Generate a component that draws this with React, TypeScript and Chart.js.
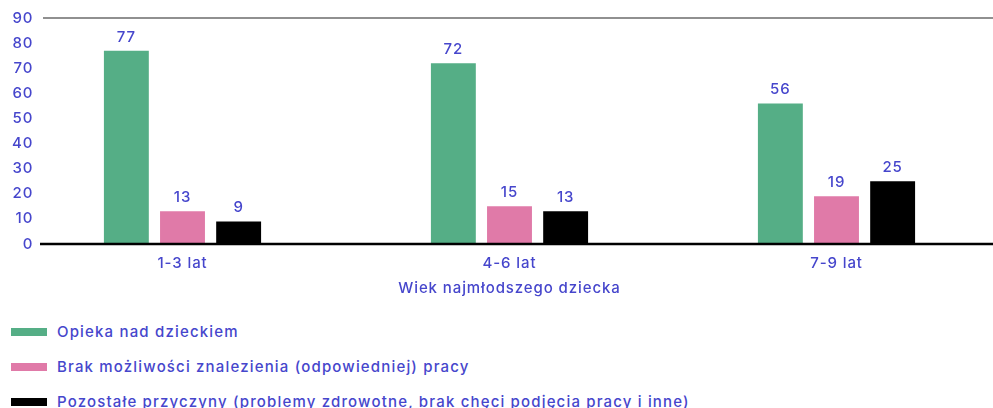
import React, { useEffect, useRef } from "react";
import { Chart, registerables } from "chart.js";

Chart.register(...registerables);

const categories = ["1-3 lat", "4-6 lat", "7-9 lat"];
const seriesNames = [
  "Opieka nad dzieckiem",
  "Brak możliwości znalezienia (odpowiedniej) pracy",
  "Pozostałe przyczyny (problemy zdrowotne, brak chęci podjęcia pracy i inne)",
];
const opiekaValues = [77, 72, 56];
const brakPracyValues = [13, 15, 19];
const pozostaleValues = [9, 13, 25];
const yTickValues = [0, 10, 20, 30, 40, 50, 60, 70, 80, 90];
const xAxisTitle = "Wiek najmłodszego dziecka";

const seriesColors = ["#55ae86", "#e07aa8", "#000000"];
const TEXT_COLOR = "#4646cc";
const FONT_FAMILY = "Inter, 'Open Sans', sans-serif";
const FONT_WEIGHT = 500;
const LETTER_SPACING = "0.9px";
const LEGEND_LETTER_SPACING = "1.17px";

const letterSpacingPlugin = {
  id: "letterSpacing",
  beforeLayout(chart: any) {
    chart.ctx.letterSpacing = LETTER_SPACING;
  },
  beforeDraw(chart: any) {
    chart.ctx.letterSpacing = LETTER_SPACING;
  },
};

const valueLabelPlugin = {
  id: "valueLabels",
  afterDatasetsDraw(chart: any) {
    const ctx = chart.ctx;
    ctx.save();
    ctx.fillStyle = TEXT_COLOR;
    ctx.font = `${FONT_WEIGHT} 15px ${FONT_FAMILY}`;
    ctx.textAlign = "center";
    ctx.textBaseline = "bottom";
    chart.data.datasets.forEach((ds: any, i: number) => {
      const meta = chart.getDatasetMeta(i);
      meta.data.forEach((bar: any, j: number) => {
        ctx.fillText(String(ds.data[j]), bar.x, bar.y - 6);
      });
    });
    ctx.restore();
  },
};

const axisLinesPlugin = {
  id: "axisLines",
  afterDatasetsDraw(chart: any) {
    const ctx = chart.ctx;
    const y = chart.scales.y;
    const left = chart.chartArea.left;
    const right = chart.width;
    ctx.save();
    const yTop = y.getPixelForValue(yTickValues[yTickValues.length - 1]);
    ctx.strokeStyle = "#6b6b6b";
    ctx.lineWidth = 1.5;
    ctx.beginPath();
    ctx.moveTo(left + 24, yTop);
    ctx.lineTo(right, yTop);
    ctx.stroke();
    const y0 = y.getPixelForValue(yTickValues[0]);
    ctx.strokeStyle = "#000000";
    ctx.lineWidth = 2.5;
    ctx.beginPath();
    ctx.moveTo(left + 21, y0);
    ctx.lineTo(right, y0);
    ctx.stroke();
    ctx.restore();
  },
};

export default function App() {
  const canvasRef = useRef<HTMLCanvasElement | null>(null);

  useEffect(() => {
    if (!canvasRef.current) return;
    const seriesValues = [opiekaValues, brakPracyValues, pozostaleValues];
    const font = { family: FONT_FAMILY, size: 15, weight: FONT_WEIGHT as any };
    const chart = new Chart(canvasRef.current, {
      type: "bar",
      data: {
        labels: categories,
        datasets: seriesValues.map((vals, i) => ({
          label: seriesNames[i],
          data: vals,
          backgroundColor: seriesColors[i],
          borderWidth: 0,
          categoryPercentage: 0.515,
          barPercentage: 0.8,
        })),
      },
      options: {
        responsive: true,
        maintainAspectRatio: false,
        animation: false,
        layout: { padding: { left: 19, right: 10, top: 18, bottom: 0 } },
        plugins: {
          legend: { display: false },
          tooltip: { enabled: false },
        },
        scales: {
          x: {
            grid: { display: false, drawTicks: false },
            border: { display: false },
            ticks: {
              color: TEXT_COLOR,
              font,
              padding: 10.5,
            },
            title: {
              display: true,
              text: xAxisTitle,
              color: TEXT_COLOR,
              font,
              padding: { top: -4, bottom: 0 },
            },
          },
          y: {
            min: 0,
            max: 90,
            afterBuildTicks: (scale: any) => {
              scale.ticks = yTickValues.map((v) => ({ value: v }));
            },
            afterFit: (scale: any) => {
              scale.width = 0;
            },
            grid: { display: false, drawTicks: false },
            border: { display: false },
            ticks: {
              mirror: true,
              crossAlign: "far",
              padding: -7,
              color: TEXT_COLOR,
              font,
            },
          },
        },
      },
      plugins: [letterSpacingPlugin, axisLinesPlugin, valueLabelPlugin],
    });
    return () => chart.destroy();
  }, []);

  return (
    <div
      style={{
        position: "fixed",
        left: 0,
        top: 0,
        width: 993,
        height: 408,
        overflow: "hidden",
        background: "#ffffff",
        fontFamily: FONT_FAMILY,
      }}
    >
      <div style={{ position: "absolute", left: 0, top: 0, width: 1010, height: 297 }}>
        <canvas ref={canvasRef} />
      </div>
      <div style={{ position: "absolute", left: 11, top: 314 }}>
        {seriesNames.map((name, i) => (
          <div
            key={name}
            style={{ display: "flex", alignItems: "center", height: 35 }}
          >
            <span
              style={{
                display: "inline-block",
                width: 36,
                height: 8,
                background: seriesColors[i],
                marginRight: 10,
              }}
            />
            <span
              style={{
                color: TEXT_COLOR,
                fontSize: 15,
                fontWeight: FONT_WEIGHT,
                letterSpacing: LEGEND_LETTER_SPACING,
                whiteSpace: "nowrap",
              }}
            >
              {name}
            </span>
          </div>
        ))}
      </div>
    </div>
  );
}
